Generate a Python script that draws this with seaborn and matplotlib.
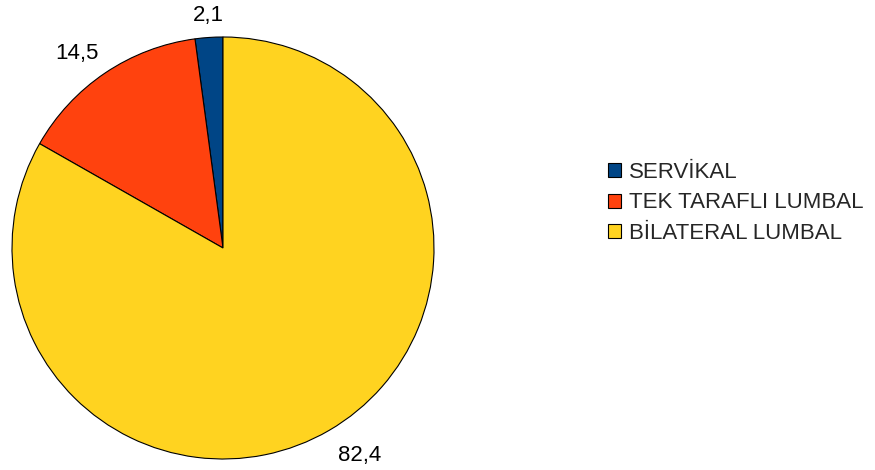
import matplotlib
matplotlib.use("Agg")
import numpy as np
import matplotlib.pyplot as plt
from matplotlib.patches import Patch
import seaborn as sns

categories = ["SERVİKAL", "TEK TARAFLI LUMBAL", "BİLATERAL LUMBAL"]
values = [2.1, 14.5, 82.4]
value_labels = ["2,1", "14,5", "82,4"]
colors = ["#004586", "#ff420e", "#ffd320"]

sns.set_theme(style="white")
plt.rcParams["font.family"] = ["Liberation Sans", "DejaVu Sans"]

fig = plt.figure(figsize=(8.75, 4.7), dpi=100)
ax = fig.add_axes([0, 0, 1, 1])

center = (223, 222)
radius = 211
wedges, _ = ax.pie(
    values,
    colors=colors,
    startangle=90,
    counterclock=True,
    center=center,
    radius=radius,
    frame=True,
    wedgeprops=dict(edgecolor="black", linewidth=0.8),
)
ax.set_xlim(0, 875)
ax.set_ylim(0, 470)
ax.set_axis_off()

# value labels just outside each wedge, anchored away from the pie
gap = 11
for w, txt in zip(wedges, value_labels):
    ang = np.deg2rad((w.theta1 + w.theta2) / 2)
    c, s = np.cos(ang), np.sin(ang)
    g = gap if s > 0 else gap + 6
    x = center[0] + (radius + g) * c
    y = center[1] + (radius + g) * s
    ha = "center" if abs(c) < 0.3 else ("left" if c > 0 else "right")
    va = "center" if abs(s) < 0.3 else ("bottom" if s > 0 else "top")
    ax.text(x, y, txt, ha=ha, va=va, fontsize=16, color="black")

handles = [Patch(facecolor=c, edgecolor="black", linewidth=0.8) for c in colors]
fig.legend(
    handles, categories,
    loc="upper left", bbox_to_anchor=(0.695, 0.655),
    frameon=False, fontsize=16,
    handlelength=0.6, handleheight=0.6, handletextpad=0.35,
    labelspacing=0.42, borderaxespad=0, borderpad=0,
)

fig.savefig("out.png", dpi=100)
